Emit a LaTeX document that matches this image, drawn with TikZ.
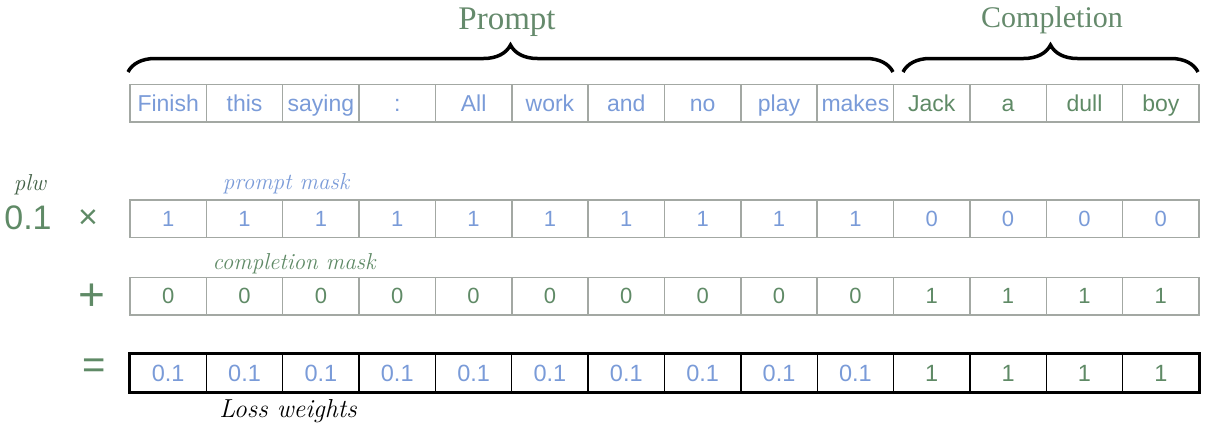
\documentclass[tikz,border=0pt]{standalone}
\usepackage{fontspec}
\setmainfont{Liberation Sans}
\newfontfamily\serifx{Liberation Serif}
\newfontfamily\handx{Latin Modern Roman}
\usetikzlibrary{decorations.pathreplacing}
\definecolor{tokblue}{HTML}{7A9BD8}
\definecolor{tokgreen}{HTML}{5F8A66}
\definecolor{titlegreen}{HTML}{658A6C}
\definecolor{cellgray}{HTML}{A3A8A3}
\tikzset{
  cell/.style={draw=cellgray, line width=1.5pt, minimum width=76.36pt, minimum height=37.5pt, inner sep=0pt, font=\fontsize{23}{23}\selectfont},
  tokcell/.style={cell, text height=19pt, text depth=2pt},
  wcell/.style={draw=black, line width=1.3pt, minimum width=76.36pt, minimum height=37.5pt, inner sep=0pt, font=\fontsize{23.5}{23.5}\selectfont},
  numcell/.style={cell, font=\fontsize{22}{22}\selectfont},
  bracex/.style={decorate, decoration={brace, amplitude=27pt}, line width=3.5pt},
  hand/.style={font=\handx\itshape\fontsize{23}{23}\selectfont, inner sep=0pt},
  op/.style={text=tokgreen, inner sep=0pt}
}
\begin{document}
\begin{tikzpicture}[x=1pt,y=-1pt]
\useasboundingbox (0,0) rectangle (1211,432);
% token row
\foreach \w [count=\i] in {Finish,this,saying,:,All,work,and,no,play,makes}
  \node[tokcell, text=tokblue] (t\i) at ({130+(\i-0.5)*76.357},103) {\w};
\foreach \w [count=\j] in {Jack,a,dull,boy}{
  \pgfmathtruncatemacro{\i}{\j+10}
  \node[tokcell, text=tokgreen] (t\i) at ({130+(\i-0.5)*76.357},103) {\w};
}
% prompt mask row
\foreach \i in {1,...,10}
  \node[numcell, text=tokblue] (p\i) at ({130+(\i-0.5)*76.357},218.5) {1};
\foreach \i in {11,...,14}
  \node[numcell, text=tokblue] (p\i) at ({130+(\i-0.5)*76.357},218.5) {0};
% completion mask row
\foreach \i in {1,...,10}
  \node[numcell, text=tokgreen] (c\i) at ({130+(\i-0.5)*76.357},296) {0};
\foreach \i in {11,...,14}
  \node[numcell, text=tokgreen] (c\i) at ({130+(\i-0.5)*76.357},296) {1};
% loss weights row
\foreach \i in {1,...,10}
  \node[wcell, text=tokblue] (w\i) at ({130+(\i-0.5)*76.357},373) {0.1};
\foreach \i in {11,...,14}
  \node[wcell, text=tokgreen] (w\i) at ({130+(\i-0.5)*76.357},373) {1};
\draw[line width=2.5pt] (w1.north west) rectangle (w14.south east);
% braces
\coordinate (pb1) at (128,72);
\coordinate (pb2) at (893,72);
\coordinate (cb1) at (903,72);
\coordinate (cb2) at (1198,72);
\draw[bracex] (pb1) -- (pb2);
\draw[bracex] (cb1) -- (cb2);
\node[text=titlegreen, font=\serifx\fontsize{33}{33}\selectfont] (prompt) at (507,22) {Prompt};
\node[text=titlegreen, font=\serifx\fontsize{30}{30}\selectfont] (compl) at (1052,20) {Completion};
% labels
\node[hand, text=tokblue] (pml) at (286,184) {prompt mask};
\node[hand, text=tokgreen] (cml) at (294,264) {completion mask};
\node[hand, text=black, font=\handx\itshape\fontsize{26}{26}\selectfont] (lwl) at (288,411) {Loss weights};
\node[hand, text=tokgreen!70!black] (plw) at (30,185) {plw};
% operators
\node[op, font=\fontsize{34}{34}\selectfont] (plwv) at (28,218) {0.1};
\node[op, font=\fontsize{34}{34}\selectfont] (times) at (88,219) {×};
\node[op, font=\fontsize{46}{46}\selectfont] (plus) at (92,297) {+};
\node[op, font=\fontsize{40}{40}\selectfont] (eq) at (94,369) {=};
\end{tikzpicture}
\end{document}
